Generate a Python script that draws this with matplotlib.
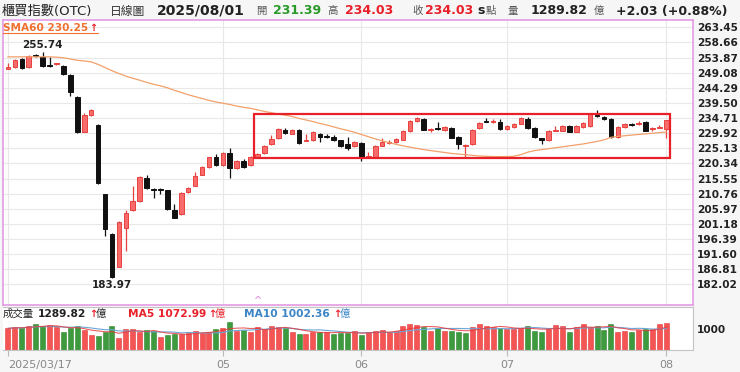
import numpy as np
import pandas as pd
import matplotlib
matplotlib.use('Agg')
import matplotlib.pyplot as plt
from matplotlib.patches import Rectangle
from matplotlib.lines import Line2D

plt.rcParams['font.family'] = ['DejaVu Sans', 'Noto Sans CJK TC']

# 日K資料 (2025/03/17 ~ 2025/08/01)
opens = [250.3, 250.9, 253.4, 250.9, 254.6, 254.0, 251.6, 251.7, 251.3, 248.4,
         241.4, 230.4, 235.7, 232.5, 210.5, 197.9, 187.6, 199.8, 205.6, 208.5,
         215.8, 212.0, 212.0, 211.8, 205.5, 204.3, 211.2, 213.3, 216.8, 219.1,
         222.3, 219.9, 223.7, 218.8, 221.2, 219.7, 222.3, 223.5, 226.4, 228.3,
         231.0, 229.7, 230.8, 227.4, 227.6, 229.7, 229.0, 228.7, 227.6, 226.5,
         225.8, 226.7, 222.2, 222.4, 225.9, 226.8, 227.1, 227.9, 230.6, 233.8,
         234.4, 231.0, 231.3, 230.9, 231.7, 228.6, 225.9, 226.4, 231.4, 233.6,
         233.3, 233.5, 231.2, 231.8, 232.9, 234.4, 231.5, 228.3, 227.6, 230.7,
         230.7, 232.1, 230.4, 231.9, 232.1, 235.7, 234.9, 234.4, 228.6, 231.9,
         232.8, 232.9, 233.4, 231.3, 231.6, 231.39]
highs = [252.0, 253.3, 253.6, 254.8, 255.0, 255.74, 254.0, 252.3, 251.6, 248.6,
         241.6, 236.3, 237.5, 232.7, 210.7, 198.3, 202.0, 205.5, 213.2, 216.4,
         216.7, 212.6, 212.6, 212.0, 207.4, 211.4, 212.8, 217.7, 219.4, 222.5,
         223.3, 224.0, 225.1, 221.5, 221.6, 222.8, 223.7, 226.2, 229.3, 231.5,
         231.6, 231.3, 231.1, 229.5, 230.5, 230.0, 229.6, 229.2, 227.9, 228.8,
         227.4, 227.0, 224.0, 226.2, 228.3, 227.8, 228.3, 230.9, 234.1, 235.1,
         234.7, 231.4, 233.5, 232.3, 232.0, 229.0, 226.5, 231.2, 233.3, 234.6,
         234.4, 234.3, 232.6, 233.1, 234.9, 235.1, 231.8, 228.5, 230.9, 232.3,
         232.6, 232.4, 232.6, 233.3, 236.2, 237.2, 235.2, 234.7, 232.3, 233.2,
         233.1, 233.8, 233.7, 232.0, 232.4, 234.03]
lows = [250.2, 250.7, 250.3, 250.7, 254.2, 250.9, 251.0, 251.5, 248.3, 241.6,
        230.0, 230.2, 235.3, 213.7, 197.2, 183.97, 187.4, 192.7, 205.3, 208.2,
        212.2, 209.3, 210.8, 205.6, 202.9, 204.0, 211.0, 213.1, 216.6, 218.9,
        219.5, 219.6, 215.8, 218.6, 219.0, 219.5, 222.0, 223.3, 226.2, 228.1,
        229.8, 229.5, 226.6, 227.3, 227.4, 227.0, 228.4, 227.3, 225.6, 224.6,
        225.6, 221.1, 222.0, 222.2, 225.7, 226.6, 226.9, 227.7, 230.4, 233.6,
        230.8, 230.2, 230.8, 230.7, 228.3, 224.8, 222.3, 226.2, 231.2, 233.3,
        233.1, 230.9, 231.0, 231.6, 232.7, 231.3, 228.5, 226.4, 227.4, 230.5,
        230.5, 230.2, 230.2, 231.7, 231.9, 235.1, 234.1, 228.4, 228.4, 231.7,
        232.3, 232.4, 230.5, 230.5, 231.4, 228.3]
closes = [250.8, 253.0, 250.5, 254.5, 254.4, 251.1, 251.3, 252.0, 248.6, 242.9,
          230.2, 235.6, 237.2, 214.0, 199.6, 184.4, 201.7, 204.5, 208.3, 216.1,
          212.4, 211.8, 211.9, 205.8, 203.1, 211.1, 212.4, 216.5, 219.1, 222.3,
          219.7, 223.7, 218.8, 221.2, 219.3, 222.5, 223.4, 225.9, 228.0, 231.2,
          230.0, 231.0, 226.8, 227.9, 230.2, 228.7, 228.8, 227.6, 225.8, 225.2,
          227.1, 222.1, 222.6, 225.9, 227.0, 227.2, 228.0, 230.6, 233.8, 234.6,
          231.0, 231.2, 231.1, 232.0, 228.5, 226.4, 226.3, 230.9, 233.0, 233.4,
          233.7, 231.1, 232.3, 232.8, 234.6, 231.5, 228.7, 227.9, 230.6, 231.0,
          232.3, 230.4, 232.3, 233.0, 235.9, 235.3, 234.3, 228.6, 232.0, 232.9,
          232.6, 233.2, 230.7, 231.6, 231.9, 234.03]
sma60 = [254.1, 254.1, 254.1, 254.1, 254.1, 254.1, 254.1, 254.0, 253.8, 253.4,
         253.0, 252.8, 252.5, 251.7, 250.7, 249.7, 248.8, 248.0, 247.3, 246.7,
         246.0, 245.4, 244.9, 244.3, 243.5, 242.8, 242.1, 241.5, 240.9, 240.3,
         239.8, 239.4, 239.0, 238.5, 238.1, 237.8, 237.3, 236.8, 236.4, 236.0,
         235.6, 235.2, 234.6, 234.1, 233.6, 233.0, 232.5, 231.9, 231.3, 230.8,
         230.2, 229.5, 228.8, 228.1, 227.5, 226.9, 226.4, 225.9, 225.5, 225.1,
         224.7, 224.4, 224.1, 223.8, 223.5, 223.3, 223.1, 222.9, 222.7, 222.6,
         222.5, 222.5, 222.5, 222.6, 223.1, 223.9, 224.4, 224.7, 225.0, 225.3,
         225.6, 225.9, 226.2, 226.5, 226.9, 227.3, 227.8, 228.6, 228.9, 229.1,
         229.3, 229.5, 229.7, 229.9, 230.1, 230.25]
# 成交量 (億)
volume = [1032, 1079, 1063, 1127, 1222, 1143, 1190, 1079, 873, 1032,
          1143, 968, 714, 683, 841, 1159, 587, 1000, 984, 841,
          937, 905, 635, 714, 762, 778, 794, 905, 825, 873,
          984, 1063, 1349, 921, 937, 841, 1111, 1000, 1127, 1095,
          1063, 873, 778, 778, 873, 873, 873, 746, 825, 810,
          905, 714, 841, 905, 937, 841, 921, 1143, 1222, 1190,
          1111, 921, 1063, 921, 905, 873, 825, 1111, 1238, 1159,
          1079, 1032, 984, 1000, 1032, 1143, 921, 873, 1000, 1190,
          1143, 841, 1095, 1254, 1095, 1143, 937, 1222, 873, 921,
          841, 952, 984, 984, 1222, 1290]

price_ticks = [263.45, 258.66, 253.87, 249.08, 244.29, 239.50, 234.71, 229.92, 225.13,
               220.34, 215.55, 210.76, 205.97, 201.18, 196.39, 191.60, 186.81, 182.02]
month_idx = [0, 31, 51, 72, 95]
month_labels = ['2025/03/17', '05', '06', '07', '08']
box_x = [35.5, 95.5]
box_y = [222.0, 236.0]

W, H = 740, 372
fig = plt.figure(figsize=(W / 100, H / 100), dpi=100, facecolor='#f6f6f6')


def rect(l, t, r, b):
    return [l / W, 1 - b / H, (r - l) / W, (b - t) / H]


def ftext(px, py, s, **kw):
    fig.text(px / W, 1 - py / H, s, va='center', ha='left', **kw)


idx = np.arange(len(closes))
o = np.array(opens); c = np.array(closes)
hi = np.array(highs); lo = np.array(lows)
up = c >= o

# ---- 價格區 ----
ax = fig.add_axes(rect(3, 20, 693, 305))
ax.set_facecolor('white')
ax.set_xlim(-0.72, 98.85)
ax.set_ylim(175.5, 265.76)
ax.set_yticks(price_ticks)
ax.set_yticklabels([f'{v:.2f}' for v in price_ticks], fontweight='bold')
ax.yaxis.tick_right()
ax.tick_params(axis='y', length=0, pad=3, labelsize=7.6, labelcolor='#222')
ax.set_xticks([])
ax.grid(axis='y', color='#e8e8e8', lw=0.8)
for m in month_idx:
    ax.axvline(m, color='#e8e8e8', lw=0.8, zorder=0)
for s in ax.spines.values():
    s.set_color('#e49be4')
    s.set_linewidth(1.2)

red_fill, red_edge, blk = '#f76b6b', '#e8423f', '#111111'
ax.vlines(idx, lo, hi, colors=np.where(up, red_edge, blk), lw=0.9, zorder=2)
ax.bar(idx, np.maximum(np.abs(c - o), 0.3), bottom=np.minimum(o, c), width=0.66,
       color=np.where(up, red_fill, blk), edgecolor=np.where(up, red_edge, blk),
       lw=0.7, zorder=3)
ax.plot(idx, sma60, color='#f2a06a', lw=0.9, zorder=4)

ax.add_patch(Rectangle((box_x[0], box_y[0]), box_x[1] - box_x[0], box_y[1] - box_y[0],
                       fill=False, ec='#e8202a', lw=1.6, zorder=5))

i_hi = int(np.argmax(hi)); i_lo = int(np.argmin(lo))
ax.annotate(f'{hi[i_hi]:.2f}', (i_hi, hi[i_hi]), xytext=(0, 1), textcoords='offset points',
            ha='center', va='bottom', fontsize=7.5, fontweight='bold', color='#222')
ax.annotate(f'{lo[i_lo]:.2f}', (i_lo, lo[i_lo]), xytext=(0, -1), textcoords='offset points',
            ha='center', va='top', fontsize=7.5, fontweight='bold', color='#222')

# ---- 成交量區 ----
axv = fig.add_axes(rect(3, 307, 693, 350))
axv.set_facecolor('white')
axv.set_xlim(-0.72, 98.85)
axv.set_ylim(0, 2048)
vol = pd.Series(volume, dtype=float)
vup = np.r_[up[0], c[1:] >= c[:-1]]
axv.bar(idx, vol, width=0.72, color=np.where(vup, '#f55454', '#3e9a3e'),
        edgecolor=np.where(vup, '#e03a3a', '#2f852f'), lw=0.4)
ma5 = vol.rolling(5, min_periods=1).mean()
ma10 = vol.rolling(10, min_periods=1).mean()
axv.plot(idx, ma10, color='#6aa6d8', lw=0.8)
axv.plot(idx, ma5, color='#e8383a', lw=0.8, alpha=0.8)
axv.set_yticks([1000])
axv.set_yticklabels(['1000'], fontweight='bold')
axv.yaxis.tick_right()
axv.tick_params(axis='y', length=0, pad=3, labelsize=7.6, labelcolor='#222')
axv.set_xticks(month_idx)
axv.set_xticklabels(month_labels)
axv.get_xticklabels()[0].set_ha('left')
axv.tick_params(axis='x', length=4, pad=3, color='#bbbbbb', labelsize=8, labelcolor='#888888')
axv.spines['left'].set_visible(False)
for k in ['top', 'right', 'bottom']:
    axv.spines[k].set_color('#c4c4c4')

# ---- 標題列 ----
ftext(2, 11, '櫃買指數(OTC)', fontsize=9.5, color='#222')
ftext(110, 11, '日線圖', fontsize=8.5, color='#333')
ftext(157, 11, '2025/08/01', fontsize=10, fontweight='bold', color='#222')
ftext(256, 11, '開', fontsize=7.5, color='#555')
ftext(273, 11, f'{o[-1]:.2f}', fontsize=9, fontweight='bold', color='#2a9a2a')
ftext(327, 11, '高', fontsize=7.5, color='#555')
ftext(345, 11, f'{hi[-1]:.2f}', fontsize=9, fontweight='bold', color='#e8202a')
ftext(412, 11, '收', fontsize=7.5, color='#555')
ftext(425, 11, f'{c[-1]:.2f}', fontsize=9, fontweight='bold', color='#e8202a')
ftext(477, 11, 's', fontsize=9, fontweight='bold', color='#222')
ftext(486, 11, '點', fontsize=7.5, color='#555')
ftext(508, 11, '量', fontsize=7.5, color='#555')
ftext(531, 11, '1289.82', fontsize=9, fontweight='bold', color='#222')
ftext(594, 11, '億', fontsize=7.5, color='#555')
ftext(616, 11, '+2.03 (+0.88%)', fontsize=9, fontweight='bold', color='#222')

ftext(3, 28, f'SMA60 {sma60[-1]:.2f}', fontsize=7.6, fontweight='bold', color='#f07030')
ftext(89, 28, '↑', fontsize=7, fontweight='bold', color='#e8202a')
fig.add_artist(Line2D([3 / W, 98 / W], [1 - 33 / H] * 2, color='#f07030', lw=0.8))

ftext(3, 314, '成交量', fontsize=7.5, color='#222')
ftext(38, 314, '1289.82', fontsize=7.7, fontweight='bold', color='#222')
ftext(89, 314, '↑', fontsize=7, fontweight='bold', color='#e8202a')
ftext(96, 314, '億', fontsize=7.5, color='#222')
ftext(128, 314, 'MA5 1072.99', fontsize=7.7, fontweight='bold', color='#e8202a')
ftext(208, 314, '↑', fontsize=7, fontweight='bold', color='#e8202a')
ftext(215, 314, '億', fontsize=7.5, color='#e8202a')
ftext(244, 314, 'MA10 1002.36', fontsize=7.7, fontweight='bold', color='#3a85c6')
ftext(333, 314, '↑', fontsize=7, fontweight='bold', color='#e8202a')
ftext(340, 314, '億', fontsize=7.5, color='#3a85c6')
ftext(254, 301, '^', fontsize=7, color='#e080e0')

fig.savefig('out.png', dpi=100, facecolor=fig.get_facecolor())
